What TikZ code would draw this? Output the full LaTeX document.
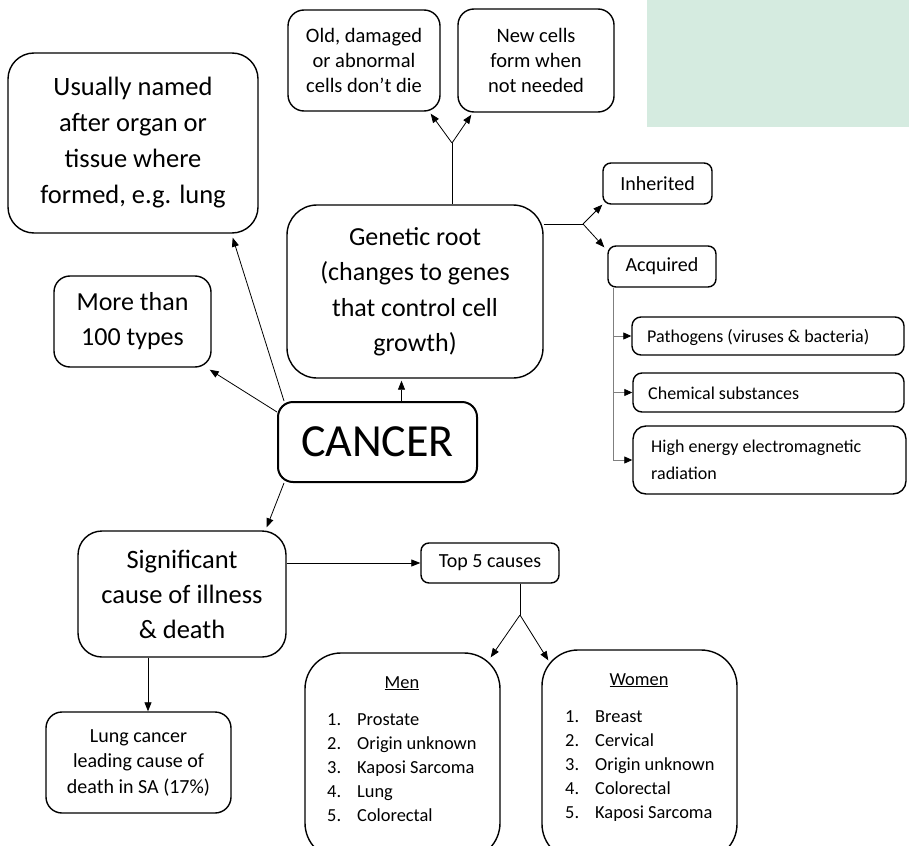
\documentclass[tikz,border=0pt]{standalone}
\usepackage{fontspec}
\setmainfont{Carlito}
\usetikzlibrary{arrows.meta,calc}
\definecolor{mint}{HTML}{D5EBE0}
\definecolor{branchgray}{HTML}{7F7F7F}
\begin{document}
\begin{tikzpicture}[x=1pt,y=-1pt,
  fs/.style 2 args={font=\fontsize{#1}{#2}\selectfont},
  box/.style={draw=black, line width=1.4pt, rounded corners=#1, inner sep=0pt,
              align=center, text=black},
  box/.default=12pt,
  lbox/.style={box=#1, align=left, text width=0pt},
  link/.style={line width=0.8pt, -{Triangle[length=9pt,width=7pt]}},
  plain/.style={line width=0.8pt},
  listtxt/.style={fs={18.4}{24}, anchor=base west, inner sep=0pt},
]
\useasboundingbox (0,0) rectangle (909,845);

% shaded panel, top right
\fill[mint] (647,0) rectangle (909,127);

% ---- boxes ----
\node[box=16pt, minimum width=152pt, minimum height=101pt, fs={20.5}{25}] (old) at (364,60.5)
  {Old, damaged\\or abnormal\\cells don’t die};
\node[box=16pt, minimum width=156pt, minimum height=103pt, fs={20.5}{25}] (newc) at (536,60.5)
  {New cells\\form when\\not needed};
\node[box=26pt, minimum width=250pt, minimum height=180pt, fs={26.5}{36}] (usual) at (133,143)
  {Usually named\\after organ or\\tissue where\\formed, e.g. lung};
\node[box=16pt, minimum width=157pt, minimum height=91pt, fs={26}{35}] (more) at (132.5,321.5)
  {More than\\100 types};
\node[box=30pt, minimum width=256pt, minimum height=173pt, fs={26}{35.5}] (gen) at (415,291.5)
  {Genetic root\\(changes to genes\\that control cell\\growth)};
\node[box=15pt, line width=2pt, minimum width=199pt, minimum height=80pt, fs={46}{50}] (cancer) at (377.5,442)
  {CANCER};
\node[box=8pt, minimum width=109pt, minimum height=41pt, fs={20}{24}] (inh) at (657.5,183.5) {Inherited};
\node[box=8pt, minimum width=108pt, minimum height=41pt, fs={20}{24}] (acq) at (662,266.5) {Acquired};
\node[box=9pt, minimum width=272pt, minimum height=38pt, fs={18}{26}] (path) at (768,336) {};
\node[fs={18}{26}, anchor=west, inner sep=0pt] (pathtxt) at (647,337) {Pathogens (viruses \& bacteria)};
\node[box=9pt, minimum width=271pt, minimum height=39pt, fs={18}{26}] (chem) at (768.5,392.5) {};
\node[fs={18}{26}, anchor=west, inner sep=0pt] (chemtxt) at (648,393) {Chemical substances};
\node[box=13pt, minimum width=273pt, minimum height=68pt] (high) at (769.5,460) {};
\node[fs={18}{27}, anchor=west, inner sep=0pt, align=left] (hightxt) at (651,460)
  {High energy electromagnetic\\radiation};
\node[box=24pt, minimum width=208pt, minimum height=126pt, fs={26.5}{35}] (sig) at (182,594)
  {Significant\\cause of illness\\\& death};
\node[box=8pt, minimum width=138pt, minimum height=40pt, fs={20}{24}] (top5) at (490,563) {Top 5 causes};
\node[box=16pt, minimum width=185pt, minimum height=101pt, fs={20}{25.5}] (lung) at (138.5,762.5)
  {Lung cancer\\leading cause of\\death in SA (17\%)};
\node[box=36pt, minimum width=195pt, minimum height=206pt] (men) at (402.5,756) {};
\node[box=36pt, minimum width=195pt, minimum height=210pt] (women) at (639.5,755) {};

% ---- lists ----
\node[fs={18.4}{24}, anchor=base, inner sep=0pt] (mentitle) at (402,688) {\underline{Men}};
\foreach \t [count=\i from 0] in {Prostate,Origin unknown,Kaposi Sarcoma,Lung,Colorectal}
  \node[listtxt] (men\i) at (327,725+24*\i)
    {\makebox[30pt][l]{\the\numexpr\i+1\relax.}\t};
\node[fs={18.4}{24}, anchor=base, inner sep=0pt] (womentitle) at (639,685) {\underline{Women}};
\foreach \t [count=\i from 0] in {Breast,Cervical,Origin unknown,Colorectal,Kaposi Sarcoma}
  \node[listtxt] (women\i) at (565,722+24*\i)
    {\makebox[30pt][l]{\the\numexpr\i+1\relax.}\t};

% ---- connectors ----
% genetic root -> consequences
\coordinate (fA) at (452,143);
\draw[plain] (fA |- gen.north) -- (fA);
\draw[link] (fA) -- ([xshift=-10pt,yshift=-2pt]old.south east);
\draw[link] (fA) -- ([xshift=14pt,yshift=-2pt]newc.south west);

% genetic root -> inherited / acquired
\coordinate (fB) at (583,224);
\draw[plain] (fB -| gen.east) -- (fB);
\draw[link] (fB) -- (inh.south west);
\draw[link] (fB) -- ([xshift=-3pt,yshift=-2pt]acq.north west);

% acquired -> factors
\coordinate (aB) at ([xshift=6pt]acq.south west);
\draw[branchgray, line width=0.8pt] (aB) -- (aB |- high.west);
\foreach \n in {path,chem,high}
  \draw[branchgray, line width=0.8pt, -{Triangle[length=8pt,width=7pt,color=black]}]
    (aB |- \n.west) -- (\n.west);

% cancer -> facts
\draw[link] ([xshift=7pt]cancer.north west) -- ([xshift=-26pt,yshift=-4pt]usual.south east);
\draw[link] ([yshift=-11pt]cancer.north west) -- ([xshift=-2pt,yshift=-2pt]more.south east);
\draw[link] ([xshift=24pt]cancer.north) -- ([xshift=24pt,yshift=-2pt]cancer.north |- gen.south);
\draw[link] ([xshift=7pt]cancer.south west) -- ([xshift=-20pt,yshift=3pt]sig.north east);

% significant cause -> details
\draw[link] (top5.west -| sig.east) -- (top5.west);
\draw[link] ([xshift=-34pt]sig.south) -- ([xshift=-34pt]sig.south |- lung.north);

% top 5 -> men / women
\coordinate (fC) at (520,615);
\draw[plain] (fC |- top5.south) -- (fC);
\draw[link] (fC) -- ([xshift=-10pt,yshift=-5pt]men.north east);
\draw[link] (fC) -- ([xshift=7pt,yshift=-11pt]women.north west);
\end{tikzpicture}
\end{document}
